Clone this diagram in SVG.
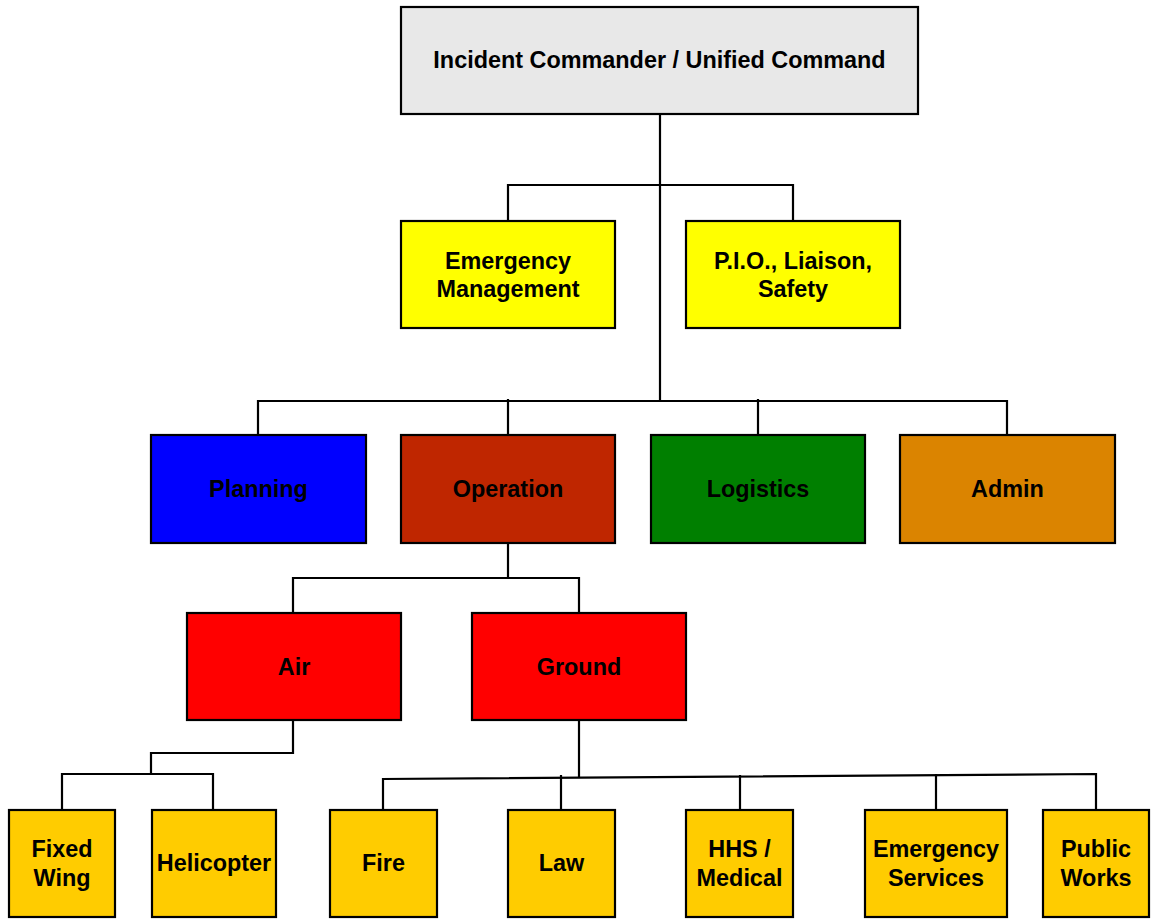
<svg xmlns="http://www.w3.org/2000/svg" width="1151" height="920" viewBox="0 0 1151 920">
<style>
rect{stroke:#000;stroke-width:2.2}
text{font-family:"Liberation Sans",Arial,sans-serif;font-weight:bold;font-size:23.4px;fill:#000;text-anchor:middle}
.c{fill:none;stroke:#000;stroke-width:2.2}
</style>
<rect x="0" y="0" width="1151" height="920" fill="#fff" style="stroke:none"/>
<g id="connectors">
<path class="c" d="M660 114V401"/>
<path class="c" d="M508 221V185H793V221"/>
<path class="c" d="M258 435V401H1007V435"/>
<path class="c" d="M508 399V435"/>
<path class="c" d="M758 399V435"/>
<path class="c" d="M508 543V578"/>
<path class="c" d="M293 613V578H579V613"/>
<path class="c" d="M293 720V753H151V774"/>
<path class="c" d="M62 810V774H213V810"/>
<path class="c" d="M579 720V777"/>
<path class="c" d="M383 810V779L1096 774V810"/>
<path class="c" d="M561 775V810"/>
<path class="c" d="M740 775V810"/>
<path class="c" d="M936 774V810"/>
</g>
<g id="ic"><rect x="401" y="7" width="517" height="107" fill="#e8e8e8"/><text x="659.5" y="68">Incident Commander / Unified Command</text></g>
<g id="em"><rect x="401" y="221" width="214" height="107" fill="#ffff00"/><text x="508" y="268.5">Emergency</text><text x="508" y="296.5">Management</text></g>
<g id="pio"><rect x="686" y="221" width="214" height="107" fill="#ffff00"/><text x="793" y="268.5">P.I.O., Liaison,</text><text x="793" y="296.5">Safety</text></g>
<g id="planning"><rect x="151" y="435" width="215" height="108" fill="#0000ff"/><text x="258.5" y="496.5">Planning</text></g>
<g id="operation"><rect x="401" y="435" width="214" height="108" fill="#bf2600"/><text x="508" y="496.5">Operation</text></g>
<g id="logistics"><rect x="651" y="435" width="214" height="108" fill="#007f00"/><text x="758" y="496.5">Logistics</text></g>
<g id="admin"><rect x="900" y="435" width="215" height="108" fill="#db8400"/><text x="1007.5" y="496.5">Admin</text></g>
<g id="air"><rect x="187" y="613" width="214" height="107" fill="#ff0000"/><text x="294" y="674.5">Air</text></g>
<g id="ground"><rect x="472" y="613" width="214" height="107" fill="#ff0000"/><text x="579" y="674.5">Ground</text></g>
<g id="fixedwing"><rect x="9" y="810" width="106" height="107" fill="#ffcc00"/><text x="62" y="856.5">Fixed</text><text x="62" y="885.5">Wing</text></g>
<g id="helicopter"><rect x="152" y="810" width="124" height="107" fill="#ffcc00"/><text x="214" y="871">Helicopter</text></g>
<g id="fire"><rect x="330" y="810" width="107" height="107" fill="#ffcc00"/><text x="383.5" y="871">Fire</text></g>
<g id="law"><rect x="508" y="810" width="107" height="107" fill="#ffcc00"/><text x="561.5" y="871">Law</text></g>
<g id="hhs"><rect x="686" y="810" width="107" height="107" fill="#ffcc00"/><text x="739.5" y="856.5">HHS /</text><text x="739.5" y="885.5">Medical</text></g>
<g id="es"><rect x="865" y="810" width="142" height="107" fill="#ffcc00"/><text x="936" y="856.5">Emergency</text><text x="936" y="885.5">Services</text></g>
<g id="pw"><rect x="1043" y="810" width="106" height="107" fill="#ffcc00"/><text x="1096" y="856.5">Public</text><text x="1096" y="885.5">Works</text></g>
</svg>
